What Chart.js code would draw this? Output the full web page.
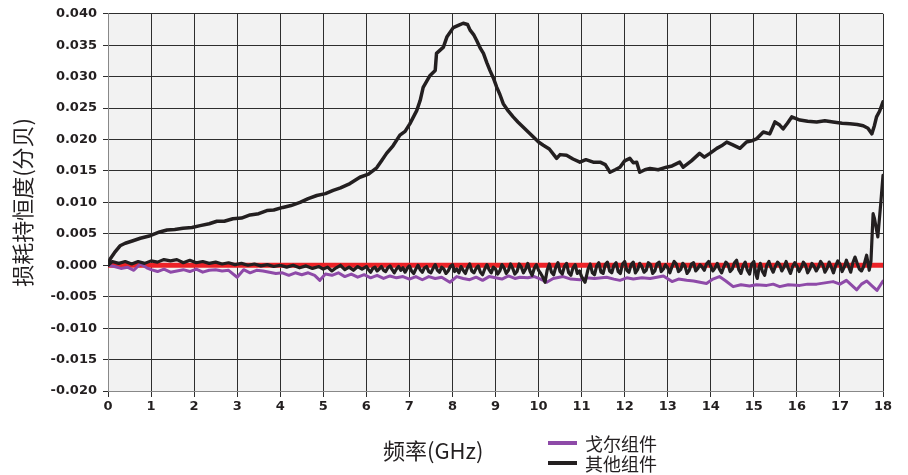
<!DOCTYPE html>
<html><head><meta charset="utf-8">
<script src="https://cdn.jsdelivr.net/npm/chart.js@4.4.1/dist/chart.umd.min.js"></script>
<style>
html,body{margin:0;padding:0;background:#fff;}
#wrap{position:relative;width:908px;height:475px;overflow:hidden;}
canvas{position:absolute;left:0;top:0;}
.xt{position:absolute;left:383px;top:437px;font-family:"Noto Sans CJK SC";font-size:22px;line-height:24px;color:#231f20;white-space:nowrap;}
.lg{position:absolute;left:548px;height:20px;display:flex;align-items:center;font-family:"Noto Sans CJK SC";font-size:18px;line-height:20px;color:#231f20;white-space:nowrap;}
.lg .ln{display:inline-block;width:29px;height:4px;margin-right:8px;}
</style></head><body>
<div id="wrap"><canvas id="c" width="908" height="475"></canvas>
<div class="xt" id="xt"></div>
<div id="legend"></div>
</div>
<script>
// ---- data ----
const xTitle = "频率(GHz)";
const yTitle = "损耗持恒度(分贝)";
const seriesNames = ["戈尔组件", "其他组件"];
const seriesColors = ["#8e4aa8", "#231f20"];

const zeroFreq = [0, 18];
const zeroLoss = [0, 0];

const goreFreq = [0,0.15,0.3,0.45,0.6,0.75,0.9,1.0,1.15,1.3,1.45,1.6,1.75,1.9,2.05,2.2,2.35,2.5,2.65,2.8,3.0,3.15,3.3,3.45,3.6,3.75,3.9,4.05,4.2,4.35,4.5,4.65,4.8,4.92,5.05,5.2,5.35,5.5,5.65,5.8,5.95,6.1,6.25,6.4,6.55,6.7,6.85,7.0,7.15,7.3,7.45,7.6,7.75,7.94,8.1,8.25,8.4,8.55,8.7,8.85,9.0,9.15,9.3,9.45,9.57,9.75,9.9,10.05,10.19,10.34,10.57,10.75,10.96,11.1,11.3,11.58,11.75,11.89,12.05,12.2,12.4,12.59,12.75,12.9,13.1,13.25,13.44,13.6,13.9,14.05,14.2,14.35,14.52,14.7,14.9,15.06,15.3,15.45,15.6,15.8,16.07,16.25,16.46,16.65,16.84,17.0,17.15,17.39,17.5,17.62,17.75,17.86,18.0];
const goreLoss = [0.0000,-0.0002,-0.0005,-0.0003,-0.0008,0.0002,-0.0004,-0.0007,-0.0010,-0.0006,-0.0011,-0.0009,-0.0007,-0.0010,-0.0006,-0.0011,-0.0008,-0.0007,-0.0009,-0.0008,-0.0019,-0.0007,-0.0012,-0.0008,-0.0009,-0.0011,-0.0013,-0.0012,-0.0016,-0.0012,-0.0015,-0.0012,-0.0016,-0.0024,-0.0014,-0.0016,-0.0012,-0.0018,-0.0014,-0.0019,-0.0015,-0.0020,-0.0016,-0.0021,-0.0017,-0.0020,-0.0018,-0.0022,-0.0018,-0.0023,-0.0018,-0.0021,-0.0019,-0.0027,-0.0018,-0.0021,-0.0023,-0.0019,-0.0024,-0.0018,-0.0020,-0.0022,-0.0017,-0.0021,-0.0019,-0.0020,-0.0018,-0.0022,-0.0027,-0.0021,-0.0018,-0.0022,-0.0023,-0.0020,-0.0021,-0.0019,-0.0022,-0.0024,-0.0020,-0.0022,-0.0020,-0.0021,-0.0019,-0.0017,-0.0026,-0.0022,-0.0024,-0.0025,-0.0029,-0.0022,-0.0018,-0.0025,-0.0034,-0.0031,-0.0033,-0.0031,-0.0032,-0.0030,-0.0034,-0.0031,-0.0032,-0.0030,-0.0030,-0.0028,-0.0026,-0.0030,-0.0024,-0.0039,-0.0030,-0.0025,-0.0033,-0.0040,-0.0025];

const otherPeakFreq = [0,0.05,0.15,0.28,0.4,0.58,0.75,0.98,1.2,1.37,1.55,1.74,1.95,2.14,2.35,2.53,2.7,2.9,3.1,3.3,3.5,3.69,3.85,4.06,4.25,4.46,4.65,4.85,5.05,5.23,5.4,5.62,5.85,6.05,6.24,6.35,6.47,6.62,6.78,6.9,7.01,7.17,7.25,7.32,7.48,7.6,7.63,7.79,7.87,8.02,8.15,8.25,8.35,8.41,8.5,8.56,8.65,8.72,8.8,8.87,8.95,9.03,9.1,9.18,9.3,9.41,9.52,9.64,9.76,9.88,10.0,10.11,10.25,10.42,10.5,10.65,10.8,10.96,11.1,11.27,11.43,11.55,11.66,11.78,11.89,12.0,12.12,12.2,12.28,12.35,12.47,12.59,12.78,12.97,13.1,13.28,13.36,13.55,13.74,13.85,13.98,14.14,14.25,14.37,14.5,14.68,14.83,14.95,15.06,15.22,15.37,15.49,15.6,15.68,15.78,15.88,16.07,16.25,16.46,16.65,16.84,17.05,17.23,17.4,17.54,17.65,17.74,17.8,17.85,17.92,18.0];
const otherPeakLoss = [0.0000,0.0010,0.0020,0.0031,0.0035,0.0039,0.0043,0.0047,0.0053,0.0056,0.0057,0.0059,0.0060,0.0063,0.0066,0.0070,0.0070,0.0074,0.0075,0.0080,0.0082,0.0087,0.0088,0.0092,0.0095,0.0100,0.0106,0.0111,0.0114,0.0119,0.0123,0.0130,0.0140,0.0145,0.0155,0.0166,0.0178,0.0190,0.0207,0.0213,0.0225,0.0246,0.0262,0.0283,0.0302,0.0310,0.0337,0.0347,0.0363,0.0378,0.0382,0.0385,0.0383,0.0374,0.0366,0.0358,0.0345,0.0337,0.0322,0.0310,0.0298,0.0283,0.0272,0.0257,0.0245,0.0236,0.0228,0.0220,0.0212,0.0204,0.0196,0.0191,0.0185,0.0170,0.0176,0.0175,0.0169,0.0164,0.0168,0.0164,0.0164,0.0160,0.0148,0.0152,0.0156,0.0166,0.0170,0.0163,0.0164,0.0148,0.0152,0.0154,0.0152,0.0156,0.0158,0.0164,0.0156,0.0166,0.0178,0.0172,0.0178,0.0186,0.0190,0.0196,0.0192,0.0186,0.0196,0.0198,0.0201,0.0212,0.0209,0.0228,0.0223,0.0217,0.0226,0.0236,0.0231,0.0229,0.0228,0.0230,0.0228,0.0226,0.0225,0.0224,0.0222,0.0218,0.0209,0.0222,0.0236,0.0245,0.0260];

const otherFlatFreq = [0,0.1,0.25,0.4,0.55,0.7,0.85,1.0,1.15,1.3,1.45,1.6,1.75,1.9,2.05,2.2,2.35,2.5,2.65,2.8,2.95,3.1,3.25,3.4,3.55,3.7,3.85,4.0,4.15,4.3,4.45,4.6,4.75,4.9,5.0,5.1,5.2,5.3,5.4,5.5,5.6,5.7,5.8,5.9,
6.0,6.05,6.1,6.15,6.2,6.25,6.3,6.35,6.4,6.45,6.5,6.55,6.6,6.65,6.7,6.75,6.8,6.85,6.9,6.95,
7.0,7.05,7.1,7.15,7.2,7.25,7.3,7.35,7.4,7.45,7.5,7.55,7.6,7.65,7.7,7.75,7.8,7.85,7.9,7.95,
8.0,8.05,8.1,8.15,8.2,8.25,8.3,8.35,8.4,8.45,8.5,8.55,8.6,8.65,8.7,8.75,8.8,8.85,8.9,8.95,
9.0,9.05,9.1,9.15,9.2,9.25,9.3,9.35,9.4,9.45,9.5,9.55,9.6,9.65,9.7,9.75,9.8,9.85,9.9,9.95,
10.0,10.05,10.1,10.15,10.2,10.25,10.3,10.35,10.4,10.45,10.5,10.55,10.6,10.65,10.7,10.75,10.8,10.85,10.9,10.95,
11.0,11.05,11.08,11.15,11.2,11.25,11.3,11.35,11.4,11.45,11.5,11.55,11.6,11.65,11.7,11.75,11.8,11.85,11.9,11.95,
12.0,12.05,12.1,12.15,12.2,12.25,12.3,12.35,12.4,12.45,12.5,12.55,12.6,12.65,12.7,12.75,12.8,12.85,12.9,12.95,
13.0,13.05,13.1,13.15,13.2,13.25,13.3,13.35,13.4,13.45,13.5,13.55,13.6,13.65,13.7,13.75,13.8,13.85,13.9,13.95,
14.0,14.05,14.1,14.15,14.2,14.25,14.3,14.35,14.4,14.45,14.5,14.55,14.6,14.65,14.7,14.75,14.8,14.85,14.9,14.95,
15.0,15.05,15.08,15.12,15.15,15.2,15.25,15.3,15.35,15.4,15.45,15.5,15.55,15.6,15.65,15.7,15.75,15.8,15.85,15.9,15.95,
16.0,16.05,16.1,16.15,16.2,16.25,16.3,16.35,16.4,16.45,16.5,16.55,16.6,16.65,16.7,16.75,16.8,16.85,16.9,16.95,
17.0,17.05,17.1,17.15,17.2,17.25,17.3,17.35,17.4,17.45,17.5,17.55,17.62,17.68,17.72,17.77,17.8,17.88,17.95,18.0];
const otherFlatLoss = [0.0000,0.0006,0.0003,0.0006,0.0002,0.0006,0.0003,0.0007,0.0005,0.0009,0.0007,0.0009,0.0004,0.0008,0.0004,0.0006,0.0003,0.0005,0.0002,0.0004,0.0001,0.0003,0.0000,0.0002,-0.0001,0.0001,-0.0002,0.0000,-0.0003,0.0000,-0.0004,-0.0001,-0.0005,-0.0002,-0.0006,-0.0003,-0.0009,-0.0004,0.0000,-0.0007,-0.0003,-0.0008,-0.0002,-0.0006,
-0.0002,-0.0007,-0.0011,-0.0005,-0.0003,-0.0009,-0.0006,-0.0002,-0.0008,-0.0010,-0.0004,-0.0001,-0.0007,-0.0012,-0.0006,-0.0002,-0.0008,-0.0004,-0.0011,-0.0005,
-0.0001,-0.0009,-0.0013,-0.0006,0.0000,-0.0007,-0.0011,-0.0004,-0.0002,-0.0010,-0.0012,-0.0005,0.0001,-0.0008,-0.0011,-0.0003,-0.0006,-0.0013,-0.0009,-0.0002,
0.0001,-0.0010,-0.0006,-0.0012,-0.0002,-0.0008,-0.0013,-0.0004,0.0002,-0.0009,-0.0012,-0.0005,-0.0001,-0.0011,-0.0015,-0.0006,0.0001,-0.0007,-0.0012,-0.0003,
-0.0006,-0.0014,-0.0009,0.0001,-0.0004,-0.0013,-0.0008,0.0002,-0.0005,-0.0014,-0.0010,0.0002,-0.0003,-0.0012,-0.0006,0.0003,-0.0009,-0.0016,-0.0005,0.0001,
-0.0008,-0.0013,-0.0019,-0.0027,-0.0008,0.0002,-0.0011,-0.0015,-0.0003,0.0004,-0.0010,-0.0014,-0.0002,0.0003,-0.0012,-0.0016,-0.0004,0.0001,-0.0013,-0.0009,
-0.0018,-0.0024,-0.0027,-0.0006,0.0002,-0.0012,-0.0015,-0.0001,0.0004,-0.0011,-0.0013,0.0001,0.0005,-0.0009,-0.0012,0.0000,0.0004,-0.0010,-0.0013,0.0002,
0.0006,-0.0008,-0.0011,0.0001,0.0005,-0.0012,-0.0007,0.0003,-0.0002,-0.0011,-0.0008,0.0004,0.0001,-0.0013,-0.0009,0.0002,0.0005,-0.0010,-0.0006,0.0001,
-0.0004,-0.0012,-0.0002,0.0006,0.0002,-0.0010,-0.0007,0.0003,-0.0001,-0.0013,-0.0008,0.0002,0.0004,-0.0009,-0.0005,0.0001,-0.0003,-0.0008,0.0002,0.0006,
-0.0002,-0.0009,-0.0004,0.0003,-0.0006,-0.0012,-0.0003,0.0005,0.0001,-0.0010,-0.0006,0.0004,0.0008,-0.0007,-0.0013,-0.0001,0.0005,-0.0008,-0.0014,0.0002,
0.0006,-0.0015,-0.0021,-0.0004,0.0003,-0.0010,-0.0016,0.0000,0.0006,-0.0004,-0.0011,-0.0002,0.0005,0.0001,-0.0009,-0.0003,0.0006,-0.0005,-0.0013,-0.0002,0.0004,
-0.0001,-0.0010,-0.0004,0.0005,0.0000,-0.0012,-0.0006,0.0003,-0.0002,-0.0009,-0.0003,0.0006,0.0001,-0.0011,-0.0005,0.0005,-0.0003,-0.0012,-0.0001,0.0007,
0.0002,-0.0010,-0.0003,0.0008,-0.0002,-0.0011,0.0004,0.0013,0.0003,-0.0006,-0.0009,-0.0002,0.0016,-0.0008,0.0006,0.0082,0.0075,0.0045,0.0100,0.0143];

const xTicks = {min: 0, max: 18, step: 1};
const yTicks = {min: -0.02, max: 0.04, step: 0.005};

// ---- build ----
const pts = (xs, ys) => xs.map((x, i) => ({x: x, y: ys[i]}));
document.getElementById('xt').textContent = xTitle;
const lg = document.getElementById('legend');
seriesNames.forEach((n, i) => {
  const d = document.createElement('div');
  d.className = 'lg';
  d.style.top = (433 + i * 20) + 'px';
  d.innerHTML = '<span class="ln" style="background:' + seriesColors[i] + '"></span>';
  d.appendChild(document.createTextNode(n));
  lg.appendChild(d);
});

const bgPlugin = {
  id: 'bg',
  beforeDraw(c) {
    const a = c.chartArea, x = c.ctx;
    x.save(); x.fillStyle = '#f2f2f2';
    x.fillRect(a.left, a.top, a.right - a.left, a.bottom - a.top);
    x.restore();
  }
};

const tickFont = {family: 'DejaVu Sans', size: 13, weight: 'bold'};
const lineDefaults = {pointRadius: 0, borderJoinStyle: 'round', borderCapStyle: 'round', tension: 0, fill: false};

new Chart(document.getElementById('c'), {
  type: 'line',
  data: {
    datasets: [
      Object.assign({label: 'zero', data: pts(zeroFreq, zeroLoss), borderColor: '#ec2227', borderWidth: 5, order: 4, borderCapStyle: 'butt'}, {pointRadius: 0}),
      Object.assign({label: seriesNames[0], data: pts(goreFreq, goreLoss), borderColor: seriesColors[0], borderWidth: 3, order: 3}, lineDefaults),
      Object.assign({label: seriesNames[1], data: pts(otherFlatFreq, otherFlatLoss), borderColor: seriesColors[1], borderWidth: 3.2, order: 2}, lineDefaults),
      Object.assign({label: seriesNames[1], data: pts(otherPeakFreq, otherPeakLoss), borderColor: seriesColors[1], borderWidth: 3.5, order: 1}, lineDefaults)
    ]
  },
  options: {
    responsive: false,
    animation: false,
    devicePixelRatio: 1,
    layout: {padding: {top: 13, right: 25, bottom: 54, left: 0}},
    plugins: {legend: {display: false}, tooltip: {enabled: false}},
    scales: {
      x: {
        type: 'linear', min: xTicks.min, max: xTicks.max,
        afterFit(s) { s.height = 30; },
        ticks: {stepSize: xTicks.step, color: '#231f20', font: tickFont, padding: 2, maxRotation: 0},
        grid: {color: '#2e2e2e', lineWidth: 1, tickColor: '#2e2e2e', tickLength: 6},
        border: {color: '#888', width: 1}
      },
      y: {
        min: yTicks.min, max: yTicks.max,
        afterFit(s) { s.width = 108; },
        ticks: {stepSize: yTicks.step, color: '#231f20', font: tickFont, padding: 6,
          callback: v => Number(v).toFixed(3)},
        grid: {color: '#2e2e2e', lineWidth: 1, tickColor: '#2e2e2e', tickLength: 5},
        border: {color: '#888', width: 1},
        title: {display: true, text: yTitle, color: '#231f20',
          font: {family: 'Noto Sans CJK SC', size: 22, weight: 'normal'}, padding: {top: 9, bottom: 0}}
      }
    }
  },
  plugins: [bgPlugin]
});
</script>
</body></html>
